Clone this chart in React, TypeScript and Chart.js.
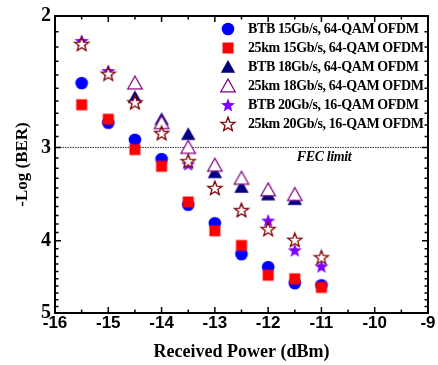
import React, { useEffect, useRef } from 'react';
import { Chart, registerables } from 'chart.js';
Chart.register(...registerables);

const X_VALUES = [-15.5, -15, -14.5, -14, -13.5, -13, -12.5, -12, -11.5, -11];
const BTB15 = [2.46, 2.78, 2.93, 3.11, 3.58, 3.79, 4.17, 4.34, 4.56, 4.59];
const KM25_15 = [2.63, 2.75, 3.02, 3.18, 3.55, 3.88, 4.06, 4.45, 4.5, 4.62];
const X18 = [-14.5, -14, -13.5, -13, -12.5, -12, -11.5];
const BTB18 = [2.57, 2.75, 2.88, 3.24, 3.39, 3.47, 3.52];
const KM25_18 = [2.46, 2.78, 3.0, 3.17, 3.3, 3.42, 3.47];
const BTB20 = [2.16, 2.37, 2.61, 2.87, 3.16, 3.4, 3.64, 3.76, 4.12, 4.33];
const KM25_20 = [2.18, 2.39, 2.61, 2.87, 3.13, 3.4, 3.64, 3.86, 3.99, 4.21];

const SERIES_LABELS = [
  'BTB 15Gb/s, 64-QAM OFDM',
  '25km 15Gb/s, 64-QAM OFDM',
  'BTB 18Gb/s, 64-QAM OFDM',
  '25km 18Gb/s, 64-QAM OFDM',
  'BTB 20Gb/s, 16-QAM OFDM',
  '25km 20Gb/s, 16-QAM OFDM',
];

const X_TICKS = [-16, -15, -14, -13, -12, -11, -10, -9];
const Y_TICKS = [2, 3, 4, 5];
const FEC_LIMIT = 3;
const FEC_LABEL = 'FEC limit';
const FEC_LABEL_X = -11.5;

type Shape = 'circle' | 'square' | 'triangle' | 'star';
interface MarkerDef { shape: Shape; fill: string; stroke: string | null; }

const MARKERS: MarkerDef[] = [
  { shape: 'circle', fill: '#0000FF', stroke: null },
  { shape: 'square', fill: '#FF0000', stroke: null },
  { shape: 'triangle', fill: '#000080', stroke: null },
  { shape: 'triangle', fill: '#FFFFFF', stroke: '#800080' },
  { shape: 'star', fill: '#8000FF', stroke: null },
  { shape: 'star', fill: '#FFFFFF', stroke: '#800000' },
];

function makeMarker(m: MarkerDef): HTMLCanvasElement {
  const size = 18;
  const c = document.createElement('canvas');
  c.width = size;
  c.height = size;
  const ctx = c.getContext('2d')!;
  const cx = size / 2;
  const cy = size / 2;
  ctx.beginPath();
  if (m.shape === 'circle') {
    ctx.arc(cx, cy, 6.3, 0, Math.PI * 2);
  } else if (m.shape === 'square') {
    ctx.rect(cx - 5.5, cy - 5.5, 11, 11);
  } else if (m.shape === 'triangle') {
    ctx.moveTo(cx, cy - 7);
    ctx.lineTo(cx + 7.2, cy + 5.8);
    ctx.lineTo(cx - 7.2, cy + 5.8);
    ctx.closePath();
  } else {
    const R = 7.4;
    const r = R * 0.42;
    for (let i = 0; i < 10; i++) {
      const rad = (Math.PI / 5) * i - Math.PI / 2;
      const rr = i % 2 === 0 ? R : r;
      const px = cx + Math.cos(rad) * rr;
      const py = cy + 0.6 + Math.sin(rad) * rr;
      if (i === 0) ctx.moveTo(px, py);
      else ctx.lineTo(px, py);
    }
    ctx.closePath();
  }
  ctx.fillStyle = m.fill;
  ctx.fill();
  if (m.stroke) {
    ctx.strokeStyle = m.stroke;
    ctx.lineWidth = 1.3;
    ctx.stroke();
  }
  return c;
}

export default function App() {
  const ref = useRef<HTMLCanvasElement>(null);
  useEffect(() => {
    document.body.style.margin = '0';
    const canvas = ref.current!;
    const imgs = MARKERS.map(makeMarker);
    const pts = (xs: number[], ys: number[]) => ys.map((y, i) => ({ x: xs[i], y }));
    const seriesData = [
      pts(X_VALUES, BTB15),
      pts(X_VALUES, KM25_15),
      pts(X18, BTB18),
      pts(X18, KM25_18),
      pts(X_VALUES, BTB20),
      pts(X_VALUES, KM25_20),
    ];
    const datasets: any[] = seriesData.map((d, i) => ({
      type: 'scatter',
      label: SERIES_LABELS[i],
      data: d,
      pointStyle: imgs[i],
      pointRadius: 8,
      showLine: false,
      order: 6 - i,
    }));
    datasets.push({
      type: 'line',
      label: 'FEC',
      data: [
        { x: X_TICKS[0], y: FEC_LIMIT },
        { x: X_TICKS[X_TICKS.length - 1], y: FEC_LIMIT },
      ],
      borderColor: '#333333',
      borderWidth: 1,
      borderDash: [1.5, 1],
      pointRadius: 0,
      order: 20,
    });

    const framePlugin = {
      id: 'frame',
      afterDraw(chart: any) {
        const ctx = chart.ctx as CanvasRenderingContext2D;
        const { left, right, top, bottom } = chart.chartArea;
        const xs = chart.scales.x;
        const ys = chart.scales.y;
        ctx.save();
        ctx.strokeStyle = '#000';
        ctx.lineWidth = 1.5;
        ctx.beginPath();
        const x0 = X_TICKS[0];
        const x1 = X_TICKS[X_TICKS.length - 1];
        for (let i = x0 * 2; i <= x1 * 2; i++) {
          const px = xs.getPixelForValue(i / 2);
          const len = i % 2 === 0 ? 6 : 3.5;
          ctx.moveTo(px, bottom);
          ctx.lineTo(px, bottom - len);
          ctx.moveTo(px, top);
          ctx.lineTo(px, top + len);
        }
        const y0 = Y_TICKS[0] * 10;
        const y1 = Y_TICKS[Y_TICKS.length - 1] * 10;
        for (let i = y0; i <= y1; i++) {
          const py = ys.getPixelForValue(i / 10);
          const len = i % 10 === 0 ? 6 : 3.5;
          ctx.moveTo(left, py);
          ctx.lineTo(left + len, py);
          ctx.moveTo(right, py);
          ctx.lineTo(right - len, py);
        }
        ctx.stroke();
        ctx.lineWidth = 2;
        ctx.strokeRect(left, top, right - left, bottom - top);

        // FEC label
        ctx.fillStyle = '#000';
        ctx.font = 'italic bold 14px "Liberation Serif"';
        (ctx as any).letterSpacing = '-0.4px';
        ctx.textBaseline = 'middle';
        ctx.textAlign = 'left';
        ctx.fillText(FEC_LABEL, xs.getPixelForValue(FEC_LABEL_X) + 2, ys.getPixelForValue(FEC_LIMIT) + 10);

        // legend
        ctx.font = 'bold 14px "Liberation Serif"';
        (ctx as any).letterSpacing = '-0.4px';
        const lx = left + 173;
        const ly = top + 13;
        SERIES_LABELS.forEach((lab, i) => {
          const yy = ly + i * 19;
          const img = imgs[i];
          ctx.drawImage(img, lx - img.width / 2, yy - img.height / 2);
          ctx.fillText(lab, lx + 20, yy);
        });
        ctx.restore();
      },
    };

    const chart = new Chart(canvas, {
      type: 'scatter',
      data: { datasets },
      options: {
        animation: false,
        responsive: false,
        devicePixelRatio: 1,
        layout: { padding: { top: 15, right: 10, left: 0, bottom: 0 } },
        plugins: { legend: { display: false }, tooltip: { enabled: false } },
        scales: {
          x: {
            type: 'linear',
            min: X_TICKS[0],
            max: X_TICKS[X_TICKS.length - 1],
            grid: { display: false, drawTicks: false },
            border: { display: false },
            afterBuildTicks: (s: any) => {
              s.ticks = X_TICKS.map((v) => ({ value: v }));
            },
            afterFit: (s: any) => {
              s.height = 52;
            },
            ticks: {
              font: { family: 'Liberation Sans', weight: 'bold', size: 17 },
              color: '#000',
              padding: 0,
              maxRotation: 0,
              autoSkip: false,
              callback: (v: any) => String(v),
            },
            title: {
              display: true,
              text: 'Received Power (dBm)',
              font: { family: 'Liberation Serif', weight: 'bold', size: 18 },
              color: '#000',
              padding: { top: 0, bottom: 2 },
            },
          },
          y: {
            type: 'logarithmic',
            min: Y_TICKS[0],
            max: Y_TICKS[Y_TICKS.length - 1],
            reverse: true,
            grid: { display: false, drawTicks: false },
            border: { display: false },
            afterBuildTicks: (s: any) => {
              s.ticks = Y_TICKS.map((v) => ({ value: v }));
            },
            afterFit: (s: any) => {
              s.width = 55;
            },
            ticks: {
              font: { family: 'Liberation Serif', weight: 'bold', size: 20 },
              color: '#000',
              padding: 4,
              autoSkip: false,
              callback: (v: any) => String(v),
            },
            title: {
              display: true,
              text: '-Log (BER)',
              font: { family: 'Liberation Serif', weight: 'bold', size: 17 },
              color: '#000',
              padding: { top: 12, bottom: 0 },
            },
          },
        },
      },
      plugins: [framePlugin],
    } as any);
    return () => chart.destroy();
  }, []);
  return (
    <div style={{ width: 438, height: 365 }}>
      <canvas ref={ref} width={438} height={365} />
    </div>
  );
}
